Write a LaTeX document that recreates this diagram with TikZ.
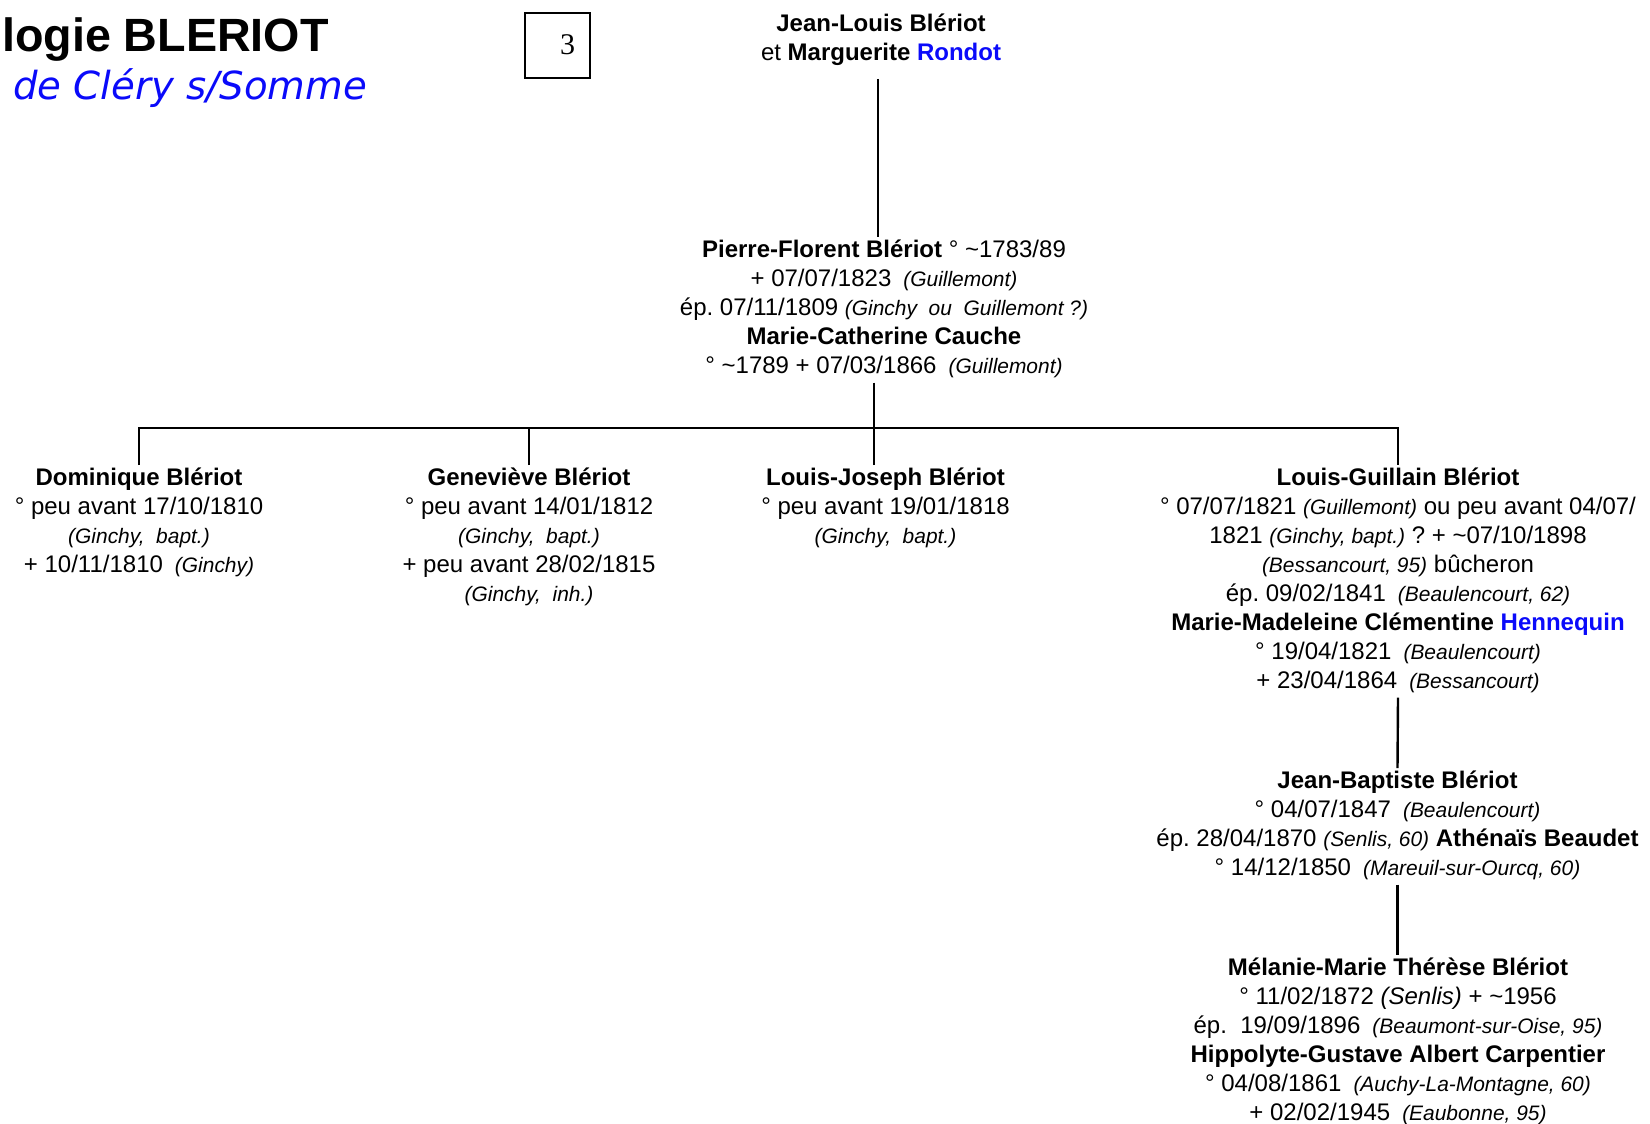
\documentclass[tikz,border=0pt]{standalone}
\usepackage{fontspec}
\setmainfont{Liberation Sans}
\newfontfamily\titlefont{DejaVu Sans}
\newfontfamily\boxfont{Liberation Serif}
\definecolor{nameblue}{RGB}{10,10,250}
\newcommand\mainfs{\fontsize{18}{21.75}\selectfont\frenchspacing}
\newcommand\pl[1]{{\fontsize{15.7}{21.75}\selectfont\itshape #1}}
\newcommand\tld{\textasciitilde}
\tikzset{
  person/.style={align=center, anchor=north, inner sep=0pt, font=\mainfs},
  conn/.style={line width=1.8pt},
}
\begin{document}
\begin{tikzpicture}[x=0.75pt,y=-0.75pt]
\useasboundingbox (0,0) rectangle (1650,1124);
% titles
\node[anchor=base east, inner sep=0pt, font=\fontsize{35}{40}\selectfont\bfseries] (title) at (329,51.7) {logie BLERIOT};
\node[anchor=base west, inner sep=0pt, font=\titlefont\fontsize{29}{34}\selectfont\itshape, text=nameblue] (subtitle) at (13,99) {de Cléry s/Somme};
\node[draw, line width=1.6pt, minimum width=65*0.75pt, minimum height=65*0.75pt, inner sep=0pt] (numbox) at (557.5,45.2) {};
\node[anchor=base, inner sep=0pt, font=\boxfont\fontsize{22.5}{26}\selectfont] (num) at (567.5,55) {3};
% people
\node[person] (jl) at (881,31.5-20.4) {\strut\textbf{Jean-Louis Blériot}\\ et \textbf{Marguerite \textcolor{nameblue}{Rondot}}\strut};
\node[person] (pf) at (884,257.5-20.4) {\strut\textbf{Pierre-Florent Blériot} ° \tld1783/89\\
+ 07/07/1823\enspace\pl{(Guillemont)}\\
ép. 07/11/1809 \pl{(Ginchy\ \ ou\ \ Guillemont\ ?)}\\
\textbf{Marie-Catherine Cauche}\\
° \tld1789 + 07/03/1866\enspace\pl{(Guillemont)}\strut};
\node[person] (dom) at (139,485.5-20.4) {\strut\textbf{Dominique Blériot}\\
° peu avant 17/10/1810\\
\pl{(Ginchy,\ \ bapt.)}\\
+ 10/11/1810\enspace\pl{(Ginchy)}\strut};
\node[person] (gen) at (529,485.5-20.4) {\strut\textbf{Geneviève Blériot}\\
° peu avant 14/01/1812\\
\pl{(Ginchy,\ \ bapt.)}\\
+ peu avant 28/02/1815\\
\pl{(Ginchy,\ \ inh.)}\strut};
\node[person] (lj) at (885.5,485.5-20.4) {\strut\textbf{Louis-Joseph Blériot}\\
° peu avant 19/01/1818\\
\pl{(Ginchy,\ \ bapt.)}\strut};
\node[person] (lg) at (1398,485.5-20.4) {\strut\textbf{Louis-Guillain Blériot}\\
° 07/07/1821 \pl{(Guillemont)} ou peu avant 04/07/\\
1821 \pl{(Ginchy, bapt.)} ? + \tld07/10/1898\\
\pl{(Bessancourt, 95)} bûcheron\\
ép. 09/02/1841\enspace\pl{(Beaulencourt, 62)}\\
\textbf{Marie-Madeleine Clémentine \textcolor{nameblue}{Hennequin}}\\
° 19/04/1821\enspace\pl{(Beaulencourt)}\\
+ 23/04/1864\enspace\pl{(Bessancourt)}\strut};
\node[person] (jb) at (1397.5,788.5-20.4) {\strut\textbf{Jean-Baptiste Blériot}\\
° 04/07/1847\enspace\pl{(Beaulencourt)}\\
ép. 28/04/1870 \pl{(Senlis, 60)} \textbf{Athénaïs Beaudet}\\
° 14/12/1850\enspace\pl{(Mareuil-sur-Ourcq,\ 60)}\strut};
\node[person] (mel) at (1398,975-20.4) {\strut\textbf{Mélanie-Marie Thérèse Blériot}\\
° 11/02/1872 \textit{(Senlis)} + \tld1956\\
ép.\ \ 19/09/1896\enspace\pl{(Beaumont-sur-Oise,\ 95)}\\
\textbf{Hippolyte-Gustave Albert Carpentier}\\
° 04/08/1861\enspace\pl{(Auchy-La-Montagne,\ 60)}\\
+ 02/02/1945\enspace\pl{(Eaubonne, 95)}};
% connectors
\coordinate (bar) at (874,428);
\draw[conn] ([xshift=-2.25pt,yshift=-7pt]jl.south) -- ([xshift=-2.25pt]jl.south |- pf.north);
\draw[conn] (pf.south -| bar) -- (bar);
\draw[conn] (dom.north) -- (dom.north |- bar) -- (lg.north |- bar) -- (lg.north);
\draw[conn] (gen.north) -- (gen.north |- bar);
\draw[conn] (lj.north -| bar) -- (bar);
\draw[conn] (lg.south) -- (jb.north);
\draw[conn] (jb.south) -- (jb.south |- mel.north);
\end{tikzpicture}
\end{document}
